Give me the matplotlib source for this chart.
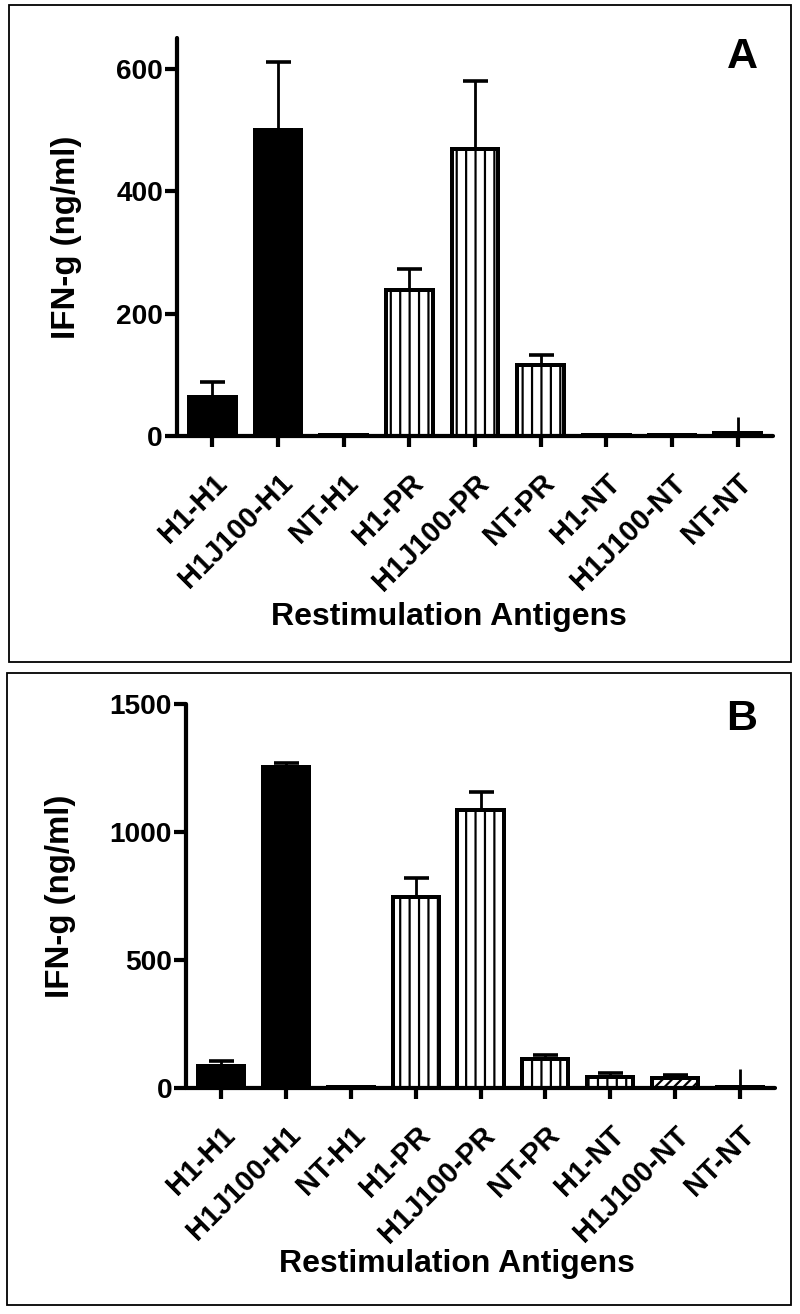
import matplotlib
matplotlib.use("Agg")
import matplotlib.pyplot as plt
from matplotlib.patches import Rectangle

DPI = 113
def pt(px):
    return px * 72.0 / DPI

plt.rcParams['font.family'] = ['Liberation Sans', 'DejaVu Sans']
plt.rcParams['font.weight'] = 'bold'
plt.rcParams['hatch.linewidth'] = pt(2.2)

categories = ["H1-H1", "H1J100-H1", "NT-H1", "H1-PR", "H1J100-PR", "NT-PR",
              "H1-NT", "H1J100-NT", "NT-NT"]
hatches = ["", "", "", "||", "||", "||", "||", "////", ""]
facecolors = ["black", "black", "black", "white", "white", "white", "white", "white", "white"]

values_A = [64, 500, 2, 239, 468, 116, 2, 2, 5]
errors_A = [24, 110, 0, 34, 112, 16, 0, 0, 26]

values_B = [86, 1254, 3, 746, 1086, 113, 43, 39, 3]
errors_B = [19, 16, 0, 74, 70, 16, 16, 12, 71]

yticks_A = [0, 200, 400, 600]
yticks_B = [0, 500, 1000, 1500]

W, H = 800, 1314
fig = plt.figure(figsize=(W / DPI, H / DPI), dpi=DPI)

# panel frames
fig.patches.append(Rectangle((9 / W, 1 - 662 / H), (791 - 9) / W, (662 - 5) / H,
                             transform=fig.transFigure, fill=False, lw=pt(1.8), ec='black'))
fig.patches.append(Rectangle((7 / W, 1 - 1305 / H), (791 - 7) / W, (1305 - 673) / H,
                             transform=fig.transFigure, fill=False, lw=pt(1.8), ec='black'))

axA = fig.add_axes([177 / W, 1 - 436 / H, (773 - 177) / W, (436 - 38) / H])
axB = fig.add_axes([186 / W, 1 - 1088 / H, (775 - 186) / W, (1088 - 704) / H])


def draw(ax, vals, errs, yticks, ytop, xlab_pos):
    x = list(range(len(categories)))
    for i in x:
        ax.bar(i, vals[i], width=0.71, color=facecolors[i], edgecolor='black',
               linewidth=pt(4), hatch=hatches[i], zorder=2)
        if errs[i] > 0:
            cs = 0 if categories[i] == "NT-NT" else pt(12.5)
            ax.errorbar(i, vals[i], yerr=[[0], [errs[i]]], fmt='none', ecolor='black',
                        elinewidth=pt(2.8), capsize=cs, capthick=pt(3.6), zorder=3)
    ax.set_xlim(-0.54, 8.54)
    ax.set_ylim(0, ytop)
    for s in ['top', 'right']:
        ax.spines[s].set_visible(False)
    for s in ['left', 'bottom']:
        ax.spines[s].set_linewidth(pt(4.2))
        ax.spines[s].set_capstyle('round')
    ax.spines['bottom'].set_zorder(4)
    ax.set_yticks(yticks)
    ax.set_yticklabels([str(t) for t in yticks], fontsize=pt(28), fontweight='bold')
    ax.set_xticks(x)
    ax.set_xticklabels(categories, rotation=45, ha='right', va='top',
                       rotation_mode='anchor', fontsize=pt(29), fontweight='bold')
    ax.tick_params(axis='y', length=pt(12), width=pt(4.2), pad=pt(2))
    ax.tick_params(axis='x', length=pt(11), width=pt(4.2), pad=pt(22))
    ax.set_ylabel("IFN-g (ng/ml)", fontsize=pt(33), fontweight='bold', labelpad=pt(34))
    ax.set_xlabel("Restimulation Antigens", fontsize=pt(32), fontweight='bold')
    ax.xaxis.set_label_coords(*xlab_pos)
    ax.xaxis.label.set_va('baseline')


draw(axA, values_A, errors_A, yticks_A, 650, (0.456, -0.475))
draw(axB, values_B, errors_B, yticks_B, 1500, (0.46, -0.479))

fig.text(742 / W, 1 - 68 / H, "A", fontsize=pt(43), fontweight='bold',
         ha='center', va='baseline')
fig.text(742 / W, 1 - 730 / H, "B", fontsize=pt(43), fontweight='bold',
         ha='center', va='baseline')

fig.savefig("out.png", dpi=DPI)
